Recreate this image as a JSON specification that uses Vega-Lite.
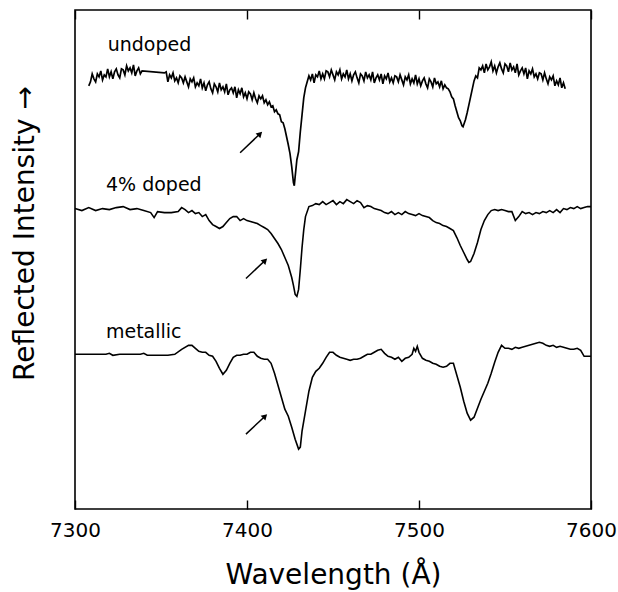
{
  "$schema": "https://vega.github.io/schema/vega-lite/v6.json",
  "width": 516,
  "height": 499,
  "autosize": "none",
  "padding": {"left": 75, "top": 10, "right": 27, "bottom": 83},
  "background": "white",
  "config": {
    "view": {"stroke": "black", "strokeWidth": 1.6},
    "font": "DejaVu Sans",
    "axisX": {"domain": false, "ticks": false, "grid": true, "gridColor": "black", "gridWidth": 1.4, "gridOpacity": 1},
    "axisY": {
      "ticks": false, "labels": false, "domain": false, "grid": false,
      "titleFontSize": 28, "titleFontWeight": "normal",
      "titleColor": "black", "titleFont": "DejaVu Sans",
      "titleBaseline": "alphabetic", "titleAngle": -90,
      "titleX": -42, "titleY": 223
    }
  },
  "datasets": {
    "undoped": [
      {"w":7308,"v":424},{"w":7309,"v":428},{"w":7310,"v":436},{"w":7311,"v":431},{"w":7312,"v":428},{"w":7313,"v":436},{"w":7314,"v":433},{"w":7315,"v":439},{"w":7316,"v":430},{"w":7317,"v":435},{"w":7318,"v":433},{"w":7319,"v":441},{"w":7320,"v":433},{"w":7321,"v":438},{"w":7322,"v":431},{"w":7323,"v":438},{"w":7324,"v":441},{"w":7325,"v":435},{"w":7326,"v":432},{"w":7327,"v":441},{"w":7328,"v":440},{"w":7329,"v":435},{"w":7330,"v":444},{"w":7331,"v":439},{"w":7332,"v":442},{"w":7333,"v":437},{"w":7334,"v":445},{"w":7335,"v":434},{"w":7336,"v":439},{"w":7337,"v":442},{"w":7338,"v":436},{"w":7339,"v":439},{"w":7352,"v":437},{"w":7353,"v":438},{"w":7354,"v":428},{"w":7355,"v":435},{"w":7356,"v":432},{"w":7357,"v":437},{"w":7358,"v":429},{"w":7359,"v":432},{"w":7360,"v":427},{"w":7361,"v":434},{"w":7362,"v":432},{"w":7363,"v":427},{"w":7364,"v":433},{"w":7365,"v":428},{"w":7366,"v":423},{"w":7367,"v":431},{"w":7368,"v":428},{"w":7369,"v":432},{"w":7370,"v":423},{"w":7371,"v":427},{"w":7372,"v":424},{"w":7373,"v":431},{"w":7374,"v":422},{"w":7375,"v":427},{"w":7376,"v":419},{"w":7377,"v":425},{"w":7378,"v":428},{"w":7379,"v":421},{"w":7380,"v":417},{"w":7381,"v":426},{"w":7382,"v":423},{"w":7383,"v":418},{"w":7384,"v":427},{"w":7385,"v":420},{"w":7386,"v":423},{"w":7387,"v":418},{"w":7388,"v":426},{"w":7389,"v":415},{"w":7390,"v":420},{"w":7391,"v":422},{"w":7392,"v":417},{"w":7393,"v":423},{"w":7394,"v":412},{"w":7395,"v":420},{"w":7396,"v":416},{"w":7397,"v":422},{"w":7398,"v":413},{"w":7399,"v":417},{"w":7400,"v":411},{"w":7401,"v":418},{"w":7402,"v":416},{"w":7403,"v":410},{"w":7404,"v":417},{"w":7405,"v":411},{"w":7406,"v":407},{"w":7407,"v":414},{"w":7408,"v":411},{"w":7409,"v":414},{"w":7410,"v":407},{"w":7411,"v":410},{"w":7412,"v":405},{"w":7413,"v":408},{"w":7414,"v":403},{"w":7415,"v":404},{"w":7416,"v":398},{"w":7417,"v":400},{"w":7418,"v":396},{"w":7419,"v":395},{"w":7420,"v":388},{"w":7421,"v":387},{"w":7422,"v":381},{"w":7423,"v":373},{"w":7424,"v":365},{"w":7425,"v":356},{"w":7426,"v":343},{"w":7427,"v":327},{"w":7427.5,"v":324},{"w":7428,"v":333},{"w":7429,"v":350},{"w":7430,"v":358},{"w":7431,"v":378},{"w":7432,"v":395},{"w":7433,"v":412},{"w":7434,"v":422},{"w":7435,"v":428},{"w":7436,"v":434},{"w":7437,"v":430},{"w":7438,"v":436},{"w":7439,"v":427},{"w":7440,"v":435},{"w":7441,"v":433},{"w":7442,"v":439},{"w":7443,"v":431},{"w":7444,"v":436},{"w":7445,"v":431},{"w":7446,"v":439},{"w":7447,"v":438},{"w":7448,"v":433},{"w":7449,"v":440},{"w":7450,"v":435},{"w":7451,"v":430},{"w":7452,"v":438},{"w":7453,"v":435},{"w":7454,"v":440},{"w":7455,"v":431},{"w":7456,"v":436},{"w":7457,"v":433},{"w":7458,"v":440},{"w":7459,"v":431},{"w":7460,"v":436},{"w":7461,"v":429},{"w":7462,"v":435},{"w":7463,"v":438},{"w":7464,"v":432},{"w":7465,"v":427},{"w":7466,"v":436},{"w":7467,"v":434},{"w":7468,"v":429},{"w":7469,"v":438},{"w":7470,"v":432},{"w":7471,"v":435},{"w":7472,"v":430},{"w":7473,"v":438},{"w":7474,"v":427},{"w":7475,"v":432},{"w":7476,"v":435},{"w":7477,"v":430},{"w":7478,"v":436},{"w":7479,"v":426},{"w":7480,"v":434},{"w":7481,"v":431},{"w":7482,"v":437},{"w":7483,"v":428},{"w":7484,"v":432},{"w":7485,"v":427},{"w":7486,"v":434},{"w":7487,"v":433},{"w":7488,"v":428},{"w":7489,"v":435},{"w":7490,"v":430},{"w":7491,"v":425},{"w":7492,"v":433},{"w":7493,"v":430},{"w":7494,"v":435},{"w":7495,"v":426},{"w":7496,"v":431},{"w":7497,"v":427},{"w":7498,"v":435},{"w":7499,"v":426},{"w":7500,"v":431},{"w":7501,"v":424},{"w":7502,"v":429},{"w":7503,"v":432},{"w":7504,"v":426},{"w":7505,"v":422},{"w":7506,"v":431},{"w":7507,"v":428},{"w":7508,"v":423},{"w":7509,"v":432},{"w":7510,"v":426},{"w":7511,"v":428},{"w":7512,"v":423},{"w":7513,"v":429},{"w":7514,"v":421},{"w":7515,"v":425},{"w":7516,"v":422},{"w":7517,"v":421},{"w":7518,"v":418},{"w":7519,"v":413},{"w":7520,"v":411},{"w":7521,"v":404},{"w":7522,"v":398},{"w":7523,"v":392},{"w":7524,"v":389},{"w":7525,"v":384},{"w":7525.6,"v":383},{"w":7526,"v":385},{"w":7527,"v":390},{"w":7528,"v":397},{"w":7529,"v":405},{"w":7530,"v":413},{"w":7531,"v":421},{"w":7532,"v":429},{"w":7533,"v":434},{"w":7534,"v":432},{"w":7535,"v":442},{"w":7536,"v":440},{"w":7537,"v":444},{"w":7538,"v":437},{"w":7539,"v":446},{"w":7540,"v":440},{"w":7541,"v":443},{"w":7542,"v":448},{"w":7543,"v":439},{"w":7544,"v":444},{"w":7545,"v":437},{"w":7546,"v":443},{"w":7547,"v":447},{"w":7548,"v":441},{"w":7549,"v":437},{"w":7550,"v":446},{"w":7551,"v":444},{"w":7552,"v":438},{"w":7553,"v":447},{"w":7554,"v":440},{"w":7555,"v":443},{"w":7556,"v":437},{"w":7557,"v":446},{"w":7558,"v":435},{"w":7559,"v":439},{"w":7560,"v":442},{"w":7561,"v":436},{"w":7562,"v":442},{"w":7563,"v":431},{"w":7564,"v":439},{"w":7565,"v":436},{"w":7566,"v":441},{"w":7567,"v":433},{"w":7568,"v":436},{"w":7569,"v":431},{"w":7570,"v":437},{"w":7571,"v":436},{"w":7572,"v":430},{"w":7573,"v":437},{"w":7574,"v":431},{"w":7575,"v":426},{"w":7576,"v":433},{"w":7577,"v":430},{"w":7578,"v":434},{"w":7579,"v":424},{"w":7580,"v":429},{"w":7581,"v":425},{"w":7582,"v":432},{"w":7583,"v":422},{"w":7584,"v":427},{"w":7585,"v":421}
    ],
    "doped": [
      {"w":7300,"v":301},{"w":7304,"v":299},{"w":7308,"v":302},{"w":7312,"v":299},{"w":7316,"v":301},{"w":7320,"v":300},{"w":7324,"v":302},{"w":7328,"v":303},{"w":7332,"v":300},{"w":7336,"v":301},{"w":7340,"v":299},{"w":7344,"v":297},{"w":7346,"v":292},{"w":7348,"v":298},{"w":7352,"v":297},{"w":7356,"v":297},{"w":7360,"v":298},{"w":7362,"v":302},{"w":7364,"v":300},{"w":7366,"v":297},{"w":7368,"v":299},{"w":7370,"v":296},{"w":7372,"v":297},{"w":7374,"v":293},{"w":7376,"v":295},{"w":7378,"v":289},{"w":7380,"v":285},{"w":7382,"v":283},{"w":7384,"v":281},{"w":7386,"v":283},{"w":7388,"v":287},{"w":7390,"v":291},{"w":7392,"v":293},{"w":7394,"v":293},{"w":7396,"v":289},{"w":7398,"v":291},{"w":7400,"v":289},{"w":7402,"v":288},{"w":7404,"v":287},{"w":7406,"v":286},{"w":7408,"v":284},{"w":7410,"v":282},{"w":7412,"v":280},{"w":7414,"v":276},{"w":7416,"v":271},{"w":7418,"v":266},{"w":7420,"v":260},{"w":7422,"v":252},{"w":7424,"v":244},{"w":7426,"v":232},{"w":7427,"v":224},{"w":7428,"v":215},{"w":7429,"v":213},{"w":7430,"v":220},{"w":7431,"v":240},{"w":7432,"v":262},{"w":7433,"v":280},{"w":7434,"v":293},{"w":7436,"v":303},{"w":7438,"v":304},{"w":7440,"v":306},{"w":7442,"v":305},{"w":7444,"v":308},{"w":7446,"v":305},{"w":7448,"v":307},{"w":7450,"v":309},{"w":7452,"v":305},{"w":7454,"v":308},{"w":7456,"v":306},{"w":7458,"v":310},{"w":7460,"v":308},{"w":7462,"v":306},{"w":7464,"v":309},{"w":7466,"v":307},{"w":7468,"v":302},{"w":7470,"v":304},{"w":7472,"v":303},{"w":7474,"v":301},{"w":7476,"v":300},{"w":7478,"v":299},{"w":7480,"v":297},{"w":7482,"v":296},{"w":7484,"v":298},{"w":7486,"v":295},{"w":7488,"v":297},{"w":7490,"v":295},{"w":7492,"v":298},{"w":7494,"v":296},{"w":7496,"v":295},{"w":7498,"v":294},{"w":7500,"v":296},{"w":7502,"v":294},{"w":7504,"v":293},{"w":7506,"v":292},{"w":7508,"v":289},{"w":7510,"v":287},{"w":7512,"v":286},{"w":7514,"v":284},{"w":7516,"v":283},{"w":7518,"v":281},{"w":7520,"v":279},{"w":7522,"v":272},{"w":7524,"v":264},{"w":7526,"v":257},{"w":7528,"v":250},{"w":7529,"v":247},{"w":7530,"v":248},{"w":7532,"v":256},{"w":7534,"v":267},{"w":7536,"v":280},{"w":7538,"v":289},{"w":7540,"v":295},{"w":7542,"v":299},{"w":7544,"v":300},{"w":7546,"v":299},{"w":7548,"v":300},{"w":7550,"v":299},{"w":7552,"v":298},{"w":7554,"v":298},{"w":7556,"v":289},{"w":7558,"v":293},{"w":7560,"v":298},{"w":7562,"v":296},{"w":7564,"v":297},{"w":7566,"v":295},{"w":7568,"v":297},{"w":7570,"v":296},{"w":7572,"v":298},{"w":7574,"v":297},{"w":7576,"v":299},{"w":7578,"v":297},{"w":7580,"v":300},{"w":7582,"v":297},{"w":7584,"v":301},{"w":7586,"v":300},{"w":7588,"v":302},{"w":7590,"v":301},{"w":7592,"v":303},{"w":7594,"v":301},{"w":7596,"v":302},{"w":7598,"v":303},{"w":7600,"v":303}
    ],
    "metallic": [
      {"w":7300,"v":155},{"w":7305,"v":155},{"w":7310,"v":155},{"w":7315,"v":155},{"w":7318,"v":155},{"w":7320,"v":156},{"w":7322,"v":154},{"w":7326,"v":155},{"w":7330,"v":155},{"w":7334,"v":155},{"w":7338,"v":155},{"w":7340,"v":156},{"w":7342,"v":154},{"w":7346,"v":154},{"w":7350,"v":154},{"w":7354,"v":154},{"w":7358,"v":155},{"w":7362,"v":160},{"w":7366,"v":164},{"w":7368,"v":164},{"w":7370,"v":161},{"w":7372,"v":158},{"w":7374,"v":157},{"w":7376,"v":157},{"w":7378,"v":154},{"w":7380,"v":153},{"w":7382,"v":148},{"w":7384,"v":141},{"w":7386,"v":135},{"w":7388,"v":139},{"w":7390,"v":146},{"w":7392,"v":152},{"w":7394,"v":154},{"w":7396,"v":154},{"w":7398,"v":155},{"w":7400,"v":155},{"w":7402,"v":157},{"w":7404,"v":157},{"w":7406,"v":153},{"w":7408,"v":151},{"w":7410,"v":150},{"w":7412,"v":150},{"w":7414,"v":146},{"w":7416,"v":136},{"w":7418,"v":124},{"w":7420,"v":112},{"w":7422,"v":100},{"w":7424,"v":93},{"w":7426,"v":82},{"w":7428,"v":70},{"w":7430,"v":60},{"w":7431,"v":62},{"w":7432,"v":78},{"w":7434,"v":98},{"w":7436,"v":118},{"w":7438,"v":132},{"w":7440,"v":138},{"w":7442,"v":141},{"w":7444,"v":146},{"w":7446,"v":152},{"w":7448,"v":157},{"w":7450,"v":157},{"w":7452,"v":154},{"w":7454,"v":152},{"w":7456,"v":151},{"w":7458,"v":150},{"w":7460,"v":149},{"w":7462,"v":150},{"w":7464,"v":150},{"w":7466,"v":151},{"w":7468,"v":153},{"w":7470,"v":155},{"w":7472,"v":155},{"w":7474,"v":157},{"w":7476,"v":159},{"w":7478,"v":160},{"w":7480,"v":156},{"w":7482,"v":153},{"w":7484,"v":152},{"w":7486,"v":150},{"w":7488,"v":152},{"w":7490,"v":148},{"w":7492,"v":151},{"w":7494,"v":152},{"w":7496,"v":155},{"w":7497,"v":161},{"w":7498,"v":158},{"w":7499,"v":163},{"w":7500,"v":157},{"w":7502,"v":151},{"w":7504,"v":149},{"w":7506,"v":148},{"w":7508,"v":146},{"w":7510,"v":145},{"w":7512,"v":143},{"w":7514,"v":142},{"w":7516,"v":143},{"w":7518,"v":146},{"w":7520,"v":146},{"w":7522,"v":134},{"w":7524,"v":122},{"w":7526,"v":108},{"w":7528,"v":96},{"w":7530,"v":89},{"w":7532,"v":92},{"w":7534,"v":101},{"w":7536,"v":110},{"w":7538,"v":118},{"w":7540,"v":126},{"w":7542,"v":136},{"w":7544,"v":147},{"w":7546,"v":157},{"w":7548,"v":164},{"w":7550,"v":161},{"w":7552,"v":161},{"w":7554,"v":160},{"w":7556,"v":162},{"w":7558,"v":161},{"w":7560,"v":162},{"w":7562,"v":163},{"w":7564,"v":164},{"w":7566,"v":165},{"w":7568,"v":166},{"w":7570,"v":167},{"w":7572,"v":166},{"w":7574,"v":164},{"w":7576,"v":163},{"w":7578,"v":164},{"w":7580,"v":162},{"w":7582,"v":163},{"w":7584,"v":162},{"w":7586,"v":161},{"w":7588,"v":160},{"w":7590,"v":160},{"w":7592,"v":161},{"w":7594,"v":159},{"w":7596,"v":153},{"w":7598,"v":153},{"w":7600,"v":153}
    ],
    "labels": [
      {"w":7319,"v":459,"t":"undoped"},
      {"w":7318,"v":319,"t":"4% doped"},
      {"w":7318,"v":171,"t":"metallic"}
    ],
    "arrows": [
      {"w":7396,"v":357,"w2":7407.6,"v2":376},
      {"w":7399.4,"v":231,"w2":7410.5,"v2":249},
      {"w":7399.4,"v":75,"w2":7410.5,"v2":93}
    ]
  },
  "layer": [
    {
      "data": {"name": "undoped"},
      "mark": {"type": "line", "color": "black", "strokeWidth": 1.7},
      "encoding": {
        "x": {"field": "w", "type": "quantitative",
          "scale": {"domain": [7300, 7600], "nice": false, "zero": false},
          "axis": {
            "orient": "bottom",
            "values": [7300, 7400, 7500, 7600],
            "gridDash": [9, 481],
            "format": "d", "labelFlush": false, "labelOverlap": false,
            "labelFontSize": 20, "labelColor": "black", "labelPadding": 11,
            "labelFont": "DejaVu Sans",
            "title": "Wavelength (Å)", "titleFontSize": 28, "titleFontWeight": "normal",
            "titleColor": "black", "titleFont": "DejaVu Sans",
            "titleBaseline": "alphabetic", "titleY": 74
          }
        },
        "y": {"field": "v", "type": "quantitative",
          "scale": {"domain": [0, 500], "nice": false, "zero": false},
          "axis": {"title": "Reflected Intensity  →"}
        }
      }
    },
    {
      "data": {"name": "doped"},
      "mark": {"type": "line", "color": "black", "strokeWidth": 1.6},
      "encoding": {
        "x": {"field": "w", "type": "quantitative",
          "axis": {
            "orient": "bottom",
            "values": [7320,7340,7360,7380,7420,7440,7460,7480,7520,7540,7560,7580],
            "gridDash": [5, 489],
            "labels": false, "title": null
          }
        },
        "y": {"field": "v", "type": "quantitative", "axis": {"title": "Reflected Intensity  →"}}
      }
    },
    {
      "data": {"name": "metallic"},
      "mark": {"type": "line", "color": "black", "strokeWidth": 1.6},
      "encoding": {
        "x": {"field": "w", "type": "quantitative", "axis": null},
        "y": {"field": "v", "type": "quantitative", "axis": {"title": "Reflected Intensity  →"}}
      }
    },
    {
      "data": {"name": "labels"},
      "mark": {"type": "text", "align": "left", "baseline": "alphabetic", "fontSize": 19, "font": "DejaVu Sans", "color": "black"},
      "encoding": {
        "x": {"field": "w", "type": "quantitative", "axis": null},
        "y": {"field": "v", "type": "quantitative", "axis": {"title": "Reflected Intensity  →"}},
        "text": {"field": "t"}
      }
    },
    {
      "data": {"name": "arrows"},
      "mark": {"type": "rule", "color": "black", "strokeWidth": 1.5},
      "encoding": {
        "x": {"field": "w", "type": "quantitative", "axis": null},
        "y": {"field": "v", "type": "quantitative", "axis": {"title": "Reflected Intensity  →"}},
        "x2": {"field": "w2"},
        "y2": {"field": "v2"}
      }
    },
    {
      "data": {"name": "arrows"},
      "mark": {"type": "point", "shape": "triangle-up", "filled": true, "color": "black", "size": 45, "angle": 45, "opacity": 1},
      "encoding": {
        "x": {"field": "w2", "type": "quantitative", "axis": null},
        "y": {"field": "v2", "type": "quantitative", "axis": {"title": "Reflected Intensity  →"}}
      }
    }
  ],
  "resolve": {"axis": {"x": "independent"}}
}
